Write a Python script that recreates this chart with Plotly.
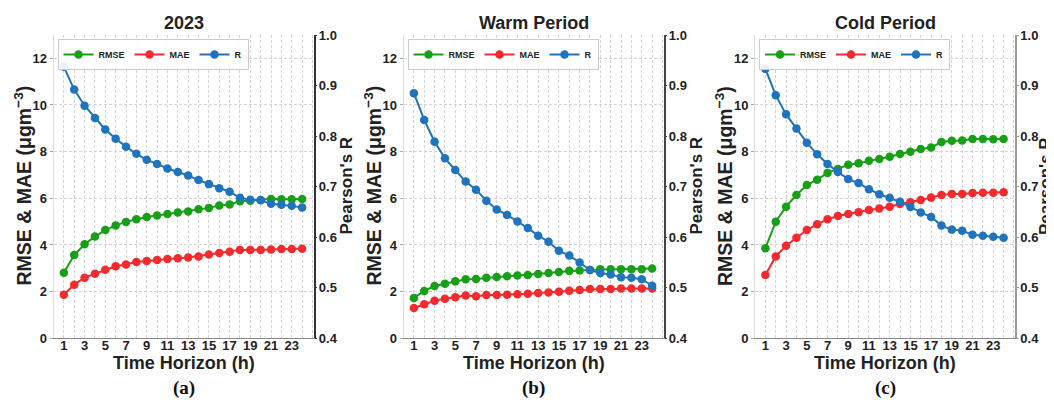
import plotly.graph_objects as go

hours = list(range(1, 25))
titles = ["2023", "Warm Period", "Cold Period"]
panel_labels = ["(a)", "(b)", "(c)"]

rmse_2023 = [2.81, 3.57, 4.03, 4.36, 4.64, 4.84, 4.99, 5.10, 5.20, 5.26, 5.33, 5.39,
             5.44, 5.53, 5.59, 5.69, 5.74, 5.87, 5.90, 5.93, 5.97, 5.96, 5.96, 5.97]
mae_2023 = [1.87, 2.30, 2.60, 2.77, 2.94, 3.09, 3.16, 3.27, 3.31, 3.36, 3.40, 3.43,
            3.46, 3.51, 3.59, 3.66, 3.71, 3.79, 3.79, 3.79, 3.81, 3.83, 3.83, 3.84]
r_2023 = [0.937, 0.892, 0.860, 0.836, 0.813, 0.795, 0.779, 0.765, 0.753, 0.745, 0.736, 0.729,
          0.722, 0.713, 0.705, 0.697, 0.690, 0.678, 0.674, 0.673, 0.666, 0.664, 0.662, 0.659]

rmse_warm = [1.73, 2.03, 2.24, 2.34, 2.44, 2.53, 2.54, 2.60, 2.63, 2.66, 2.69, 2.71,
             2.76, 2.80, 2.84, 2.89, 2.91, 2.93, 2.96, 2.96, 2.96, 2.96, 2.96, 2.99]
mae_warm = [1.30, 1.46, 1.61, 1.70, 1.76, 1.83, 1.80, 1.86, 1.86, 1.87, 1.89, 1.91,
            1.94, 1.96, 2.00, 2.04, 2.07, 2.11, 2.11, 2.11, 2.13, 2.13, 2.13, 2.13]
r_warm = [0.885, 0.832, 0.789, 0.756, 0.733, 0.710, 0.694, 0.672, 0.655, 0.644, 0.631, 0.618,
          0.603, 0.591, 0.573, 0.564, 0.550, 0.535, 0.529, 0.526, 0.521, 0.520, 0.517, 0.504]

rmse_cold = [3.86, 5.00, 5.64, 6.14, 6.57, 6.80, 7.09, 7.26, 7.44, 7.50, 7.61, 7.69,
             7.78, 7.90, 8.00, 8.11, 8.18, 8.41, 8.47, 8.48, 8.54, 8.54, 8.53, 8.54]
mae_cold = [2.71, 3.51, 3.97, 4.31, 4.64, 4.89, 5.10, 5.24, 5.33, 5.40, 5.50, 5.56,
            5.64, 5.76, 5.83, 5.93, 6.03, 6.14, 6.19, 6.19, 6.23, 6.24, 6.24, 6.26]
r_cold = [0.933, 0.881, 0.843, 0.815, 0.787, 0.764, 0.745, 0.729, 0.715, 0.707, 0.695, 0.685,
          0.678, 0.670, 0.660, 0.649, 0.640, 0.623, 0.615, 0.613, 0.605, 0.603, 0.601, 0.599]

panels = [(rmse_2023, mae_2023, r_2023), (rmse_warm, mae_warm, r_warm), (rmse_cold, mae_cold, r_cold)]

x_ticks = list(range(1, 24, 2))
y_left_ticks = list(range(0, 13, 2))
y_right_ticks = [0.4, 0.5, 0.6, 0.7, 0.8, 0.9, 1.0]

# The page body has an 8px margin, so the figure is 8px smaller and offset.
OFF = 8
W, H = 1054 - OFF, 400 - OFF


def fx(p):
    return (p - OFF) / W


def fy(p):
    return 1 - (p - OFF) / H


GREEN, RED, BLUE = "#17a017", "#f52a2f", "#1f74bd"
TXT = "#222222"
FONT = "Liberation Sans"
GRID = "#d4d4d4"

# screen-pixel positions of plot areas
px_left = [53.5, 403.5, 755.0]
px_w = 260.0
px_top, px_bot = 35.0, 338.3
ydom = [fy(px_bot), fy(px_top)]
right_line_colors = ["#333333", "#444444", "#9a9a9a"]
right_title_off = [32, 32, 30]

fig = go.Figure()
layout = {}
annotations = []
for i, (rmse, mae, r) in enumerate(panels):
    n = i + 1
    xname = "x" if n == 1 else f"x{n}"
    yl = 2 * n - 1
    yr = 2 * n
    ylname = "y" if yl == 1 else f"y{yl}"
    yrname = f"y{yr}"
    leg = "legend" if n == 1 else f"legend{n}"
    for vals, name, col, yax in [(rmse, "RMSE", GREEN, ylname), (mae, "MAE", RED, ylname), (r, "R", BLUE, yrname)]:
        fig.add_trace(go.Scatter(x=hours, y=vals, name=name, mode="lines+markers",
                                 line=dict(color=col, width=2), marker=dict(color=col, size=8.5),
                                 xaxis=xname, yaxis=yax, legend=leg))
    x0 = fx(px_left[i])
    x1 = fx(px_left[i] + px_w)
    xkey = "xaxis" if n == 1 else f"xaxis{n}"
    ylkey = "yaxis" if yl == 1 else f"yaxis{yl}"
    yrkey = f"yaxis{yr}"
    layout[xkey] = dict(domain=[x0, x1], anchor=ylname, range=[0, 25.1], tickvals=x_ticks,
                        tickfont=dict(family=FONT, size=13, color=TXT, weight="bold"),
                        showgrid=True, gridcolor=GRID, griddash="3px,2px", gridwidth=0.8,
                        minor=dict(dtick=1, tick0=0, showgrid=True, gridcolor=GRID,
                                   griddash="3px,2px", gridwidth=0.8),
                        showline=True, linecolor="#888888", linewidth=1.2,
                        ticks="", ticklabelstandoff=-5, zeroline=False)
    layout[ylkey] = dict(domain=ydom, anchor=xname, range=[0, 13], tickvals=y_left_ticks,
                         tickfont=dict(family=FONT, size=13, color=TXT, weight="bold"),
                         showgrid=True, gridcolor=GRID, griddash="3px,2px", gridwidth=0.8,
                         showline=True, linecolor="#dddddd", linewidth=1,
                         ticks="outside", ticklen=3, tickcolor="#aaaaaa", zeroline=False)
    layout[yrkey] = dict(domain=ydom, anchor=xname, overlaying=ylname, side="right",
                         range=[0.4, 1.0], tickvals=y_right_ticks, tickformat=".1f",
                         tickfont=dict(family=FONT, size=13, color=TXT, weight="bold"),
                         showgrid=False, showline=True, linecolor=right_line_colors[i], linewidth=1.5,
                         ticks="outside", ticklen=2, tickcolor=right_line_colors[i],
                         ticklabelstandoff=-1, zeroline=False)
    layout[leg] = dict(orientation="h", x=fx(px_left[i] + 4), y=fy(39), xanchor="left", yanchor="top",
                       bgcolor="rgba(255,255,255,0.9)", bordercolor="#cccccc", borderwidth=1,
                       font=dict(family=FONT, size=9, color=TXT, weight="bold"),
                       itemwidth=30, tracegroupgap=0)
    cx = fx(px_left[i] + px_w / 2)
    common = dict(xref="paper", yref="paper", showarrow=False, xanchor="center", yanchor="middle")
    annotations.append(dict(text=titles[i], x=cx, y=fy(22.5),
                            font=dict(family=FONT, size=18, color=TXT, weight="bold"), **common))
    annotations.append(dict(text="Time Horizon (h)", x=cx, y=fy(363),
                            font=dict(family=FONT, size=18, color=TXT, weight="bold"), **common))
    annotations.append(dict(text=panel_labels[i], x=cx, y=fy(388),
                            font=dict(family="Liberation Serif", size=19, color="#111111", weight="bold"), **common))
    annotations.append(dict(text="RMSE & MAE (μgm<sup>−3</sup>)", x=fx(px_left[i] - 31), y=fy(186),
                            textangle=-90, font=dict(family=FONT, size=19.5, color=TXT, weight="bold"), **common))
    annotations.append(dict(text="Pearson's R", x=fx(px_left[i] + px_w + right_title_off[i]), y=fy(186),
                            textangle=-90, font=dict(family=FONT, size=17, color=TXT, weight="bold"), **common))

fig.update_layout(width=W, height=H, margin=dict(l=0, r=0, t=0, b=0, pad=0, autoexpand=False),
                  plot_bgcolor="white", paper_bgcolor="white", annotations=annotations,
                  **layout)
fig.write_html("out.html")
